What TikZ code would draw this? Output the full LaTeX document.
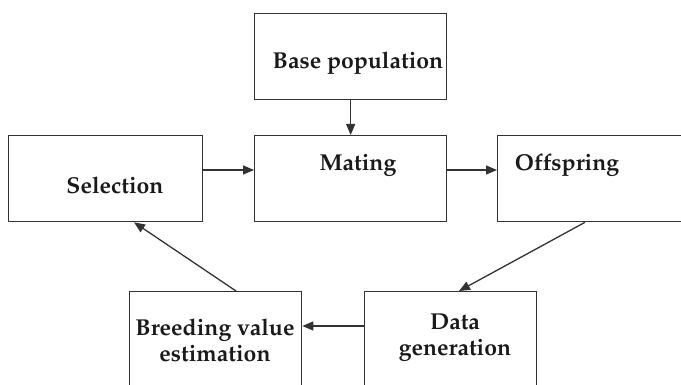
\documentclass[tikz,border=0pt]{standalone}
\usepackage[T1]{fontenc}
\usepackage{mathpazo}
\usetikzlibrary{arrows.meta}
\definecolor{ln}{HTML}{333333}
\definecolor{tx}{HTML}{1A1A1A}
\tikzset{
  box/.style={draw=ln, line width=1.3pt, rectangle, inner sep=0pt, anchor=north west},
  lbl/.style={text=tx, font=\fontsize{23}{27}\selectfont\bfseries, inner sep=0pt, align=center},
  conn/.style={draw=ln, line width=1.3pt, -{Triangle[length=11pt,width=9pt]}}
}
\begin{document}
\begin{tikzpicture}[x=1pt,y=-1pt]
\useasboundingbox (0,0) rectangle (681,385);
\clip (0,0) rectangle (681,385);
\node[box, minimum width=192pt, minimum height=86pt] (base) at (254,13) {};
\node[box, minimum width=194pt, minimum height=86pt] (sel) at (8,135) {};
\node[box, minimum width=192pt, minimum height=86pt] (mat) at (254,135) {};
\node[box, minimum width=200pt, minimum height=86pt] (off) at (497,135) {};
\node[box, minimum width=172pt, minimum height=110pt] (bv) at (129,291) {};
\node[box, minimum width=172pt, minimum height=110pt] (dg) at (364,291) {};
\node[lbl] (tbase) at (358,63) {Base population};
\node[lbl] (tsel) at (115,185) {Selection};
\node[lbl] (tmat) at (358,165) {Mating};
\node[lbl] (toff) at (567,165) {Offspring};
\node[lbl] (tbv) at (215,340) {Breeding value\\[-1pt]estimation};
\node[lbl] (tdg) at (455,338) {Data\\[-1pt]generation};
\draw[conn] (base.south) -- (mat.north);
\draw[conn] ([yshift=-35pt]sel.north east) -- ([yshift=-35pt]mat.north west);
\draw[conn] ([yshift=-35pt]mat.north east) -- ([yshift=-35pt]off.north west);
\draw[conn] ([xshift=88pt]off.south west) -- ([xshift=95pt]dg.north west);
\draw[conn] ([yshift=-35pt]dg.north west) -- ([yshift=-35pt]bv.north east);
\draw[conn] ([xshift=107pt]bv.north west) -- ([xshift=126pt]sel.south west);
\end{tikzpicture}
\end{document}
